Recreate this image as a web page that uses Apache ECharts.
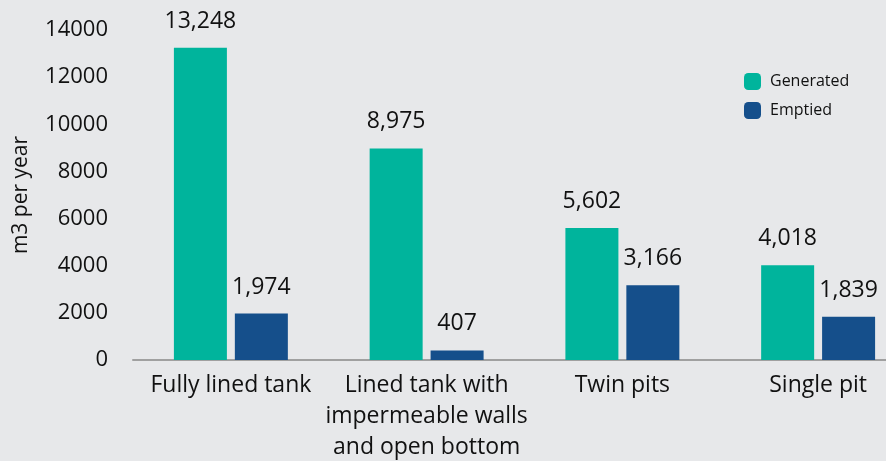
<!DOCTYPE html>
<html><head><meta charset="utf-8">
<script src="https://cdn.jsdelivr.net/npm/echarts@6/dist/echarts.min.js"></script>
<style>html,body{margin:0;padding:0;background:#e7e8ea;}#c{width:886px;height:461px;}</style>
</head><body><div id="c"></div>
<script>
const categories = ['Fully lined tank', 'Lined tank with\nimpermeable walls\nand open bottom', 'Twin pits', 'Single pit'];
const generated = [13248, 8975, 5602, 4018];
const emptied = [1974, 407, 3166, 1839];
const yTicks = [0, 2000, 4000, 6000, 8000, 10000, 12000, 14000];
const font = '"Open Sans", "Noto Sans", sans-serif';
const chart = echarts.init(document.getElementById('c'));
const lbl = {show: true, position: 'top', distance: 15, color: '#111', fontSize: 23, fontFamily: font,
  formatter: p => p.value.toLocaleString('en-US')};
chart.setOption({
  backgroundColor: '#e7e8ea',
  animation: false,
  grid: {left: 133, top: 30, bottom: 101, right: -30, containLabel: false, outerBoundsMode: 'none'},
  legend: {orient: 'vertical', left: 739, top: 68, itemWidth: 17, itemHeight: 17, itemGap: 12,
    textStyle: {fontSize: 16, fontFamily: font, color: '#111', padding: [0, 0, 0, 4]},
    data: ['Generated', 'Emptied']},
  xAxis: {type: 'category', data: categories,
    axisLine: {lineStyle: {color: '#a0a0a0', width: 2}}, axisTick: {show: false},
    axisLabel: {fontSize: 23, fontFamily: font, color: '#111', lineHeight: 31, margin: 10, interval: 0}},
  yAxis: {type: 'value', min: yTicks[0], max: yTicks[yTicks.length - 1], interval: 2000,
    name: 'm3 per year', nameLocation: 'middle', nameGap: 101, nameRotate: 90,
    nameTextStyle: {fontSize: 21, fontFamily: font, color: '#111'},
    splitLine: {show: false}, axisLine: {show: false}, axisTick: {show: false},
    axisLabel: {fontSize: 22, fontFamily: font, color: '#111', margin: 25, formatter: v => String(v)}},
  series: [
    {name: 'Generated', type: 'bar', data: generated, barWidth: 53, barGap: '15%', itemStyle: {color: '#00b49c'}, label: lbl},
    {name: 'Emptied', type: 'bar', data: emptied, barWidth: 53, itemStyle: {color: '#154f8b'}, label: lbl}
  ]
});
</script></body></html>
